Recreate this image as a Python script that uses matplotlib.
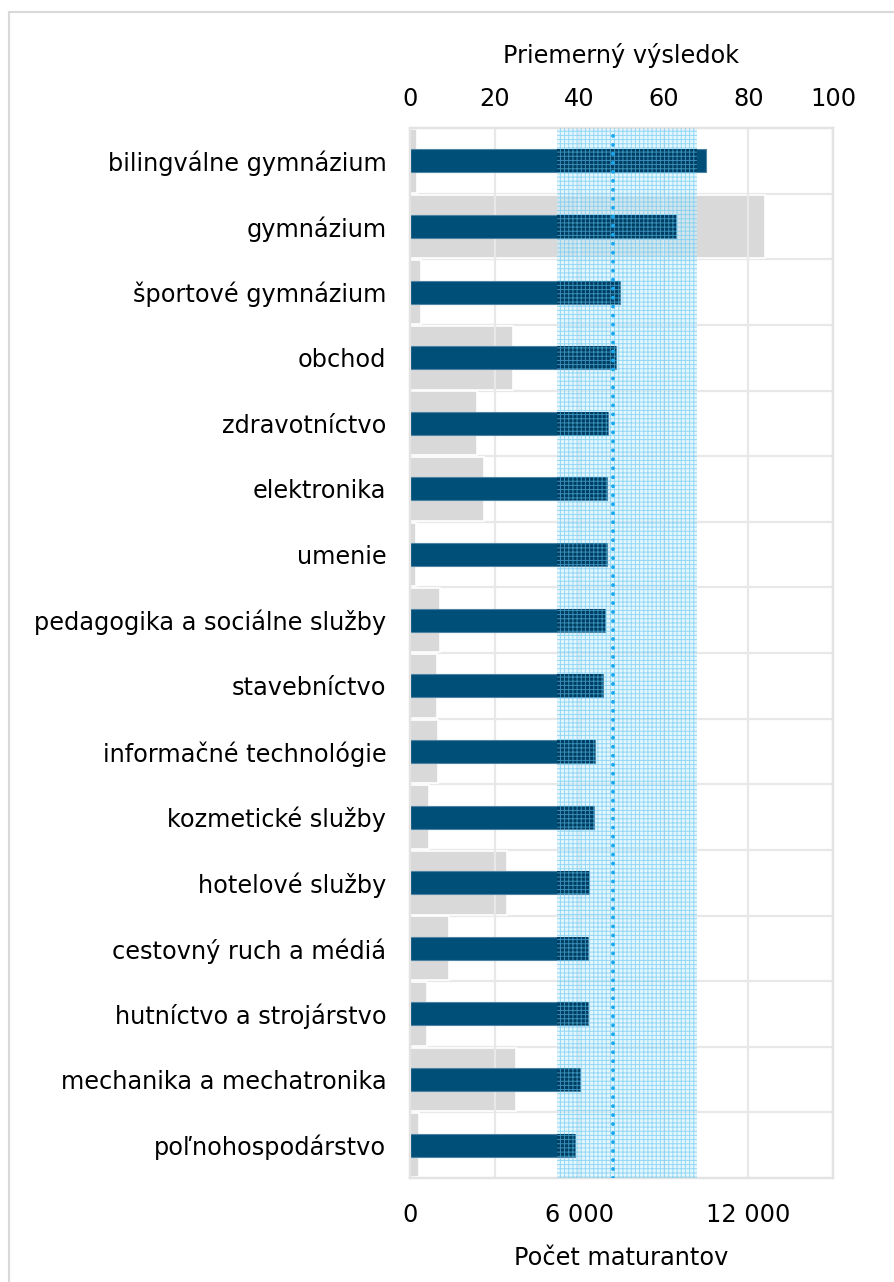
import matplotlib
matplotlib.use("Agg")
import matplotlib.pyplot as plt
from matplotlib.lines import Line2D
import numpy as np

categories = [
    "bilingválne gymnázium", "gymnázium", "športové gymnázium", "obchod",
    "zdravotníctvo", "elektronika", "umenie", "pedagogika a sociálne služby",
    "stavebníctvo", "informačné technológie", "kozmetické služby",
    "hotelové služby", "cestovný ruch a médiá", "hutníctvo a strojárstvo",
    "mechanika a mechatronika", "poľnohospodárstvo",
]
avg_score = [70.0, 62.9, 49.7, 48.6, 46.8, 46.6, 46.5, 46.1, 45.7, 43.8, 43.6,
             42.4, 42.1, 42.0, 40.1, 38.9]
student_count = [250, 12580, 380, 3640, 2380, 2640, 210, 1080, 960, 1000, 660,
                 3440, 1370, 610, 3770, 330]
band_low, band_high = 34.7, 67.9
overall_avg = 47.9
top_ticks = [0, 20, 40, 60, 80, 100]
bottom_ticks = [0, 6000, 12000]
bottom_ticklabels = ["0", "6 000", "12 000"]

plt.rcParams['font.family'] = ['DejaVu Sans']
FS = 17.3

fig = plt.figure(figsize=(8.95, 12.82), dpi=100)
ax = fig.add_axes([410/895, 1-1178/1282, (833-410)/895, (1178-128)/1282])
ax2 = ax.twiny()

n = len(categories)
y = np.arange(n)

ax.set_xlim(0, 15000)
ax.set_ylim(n - 0.5, -0.5)
ax2.set_xlim(0, 100)

# grid
for v in top_ticks[1:]:
    ax2.axvline(v, color='#e8e8e8', lw=1.6, zorder=0)
for b in np.arange(0.5, n - 0.5, 1):
    ax.axhline(b, color='#e8e8e8', lw=1.6, zorder=0)

ax.barh(y, student_count, height=0.97, color='#d9d9d9', edgecolor='white',
        linewidth=1.2, zorder=1)
ax2.barh(y, avg_score, height=0.35, color='#004f79', edgecolor='#4f83a3',
         linewidth=0.8, zorder=2)
# darker portion of blue bars inside the band
score = np.array(avg_score)
inside = np.clip(score, band_low, band_high) - band_low
ax2.barh(y, inside, left=band_low, height=0.35, color='#003d62', lw=0, zorder=2.5)

plt.rcParams['hatch.linewidth'] = 0.7
ax2.axvspan(band_low, band_high, facecolor='#d2effc', alpha=0.55, lw=0, zorder=0.5)
ax2.axvspan(band_low, band_high, facecolor='none', edgecolor='#5cc6f2',
            hatch='++++', alpha=0.6, lw=0, zorder=3)
ax2.axvline(overall_avg, color='#1aa8ec', lw=2.8, linestyle=(0, (0.01, 2.3)),
            dash_capstyle='round', zorder=4)

ax.set_yticks(y)
ax.set_yticklabels(categories, fontsize=FS)
ax.tick_params(axis='y', length=0, pad=17)
ax.set_xticks(bottom_ticks)
ax.set_xticklabels(bottom_ticklabels, fontsize=FS)
ax.tick_params(axis='x', length=0, pad=18)
ax2.set_xticks(top_ticks)
ax2.set_xticklabels([str(t) for t in top_ticks], fontsize=FS)
ax2.tick_params(axis='x', length=0, pad=12.5)

ax.set_xlabel("Počet maturantov", fontsize=FS, labelpad=14)
ax2.set_xlabel("Priemerný výsledok", fontsize=FS, labelpad=17)

for a in (ax, ax2):
    for s in a.spines.values():
        s.set_color('#e3e3e3')
        s.set_linewidth(1.6)

# outer figure border (top and left)
fig.add_artist(Line2D([9/895, 9/895], [0, 1-12/1282], transform=fig.transFigure,
                      color='#d9d9d9', lw=1.5))
fig.add_artist(Line2D([9/895, 1], [1-12/1282, 1-12/1282], transform=fig.transFigure,
                      color='#d9d9d9', lw=1.5))

fig.savefig("out.png", dpi=100)
